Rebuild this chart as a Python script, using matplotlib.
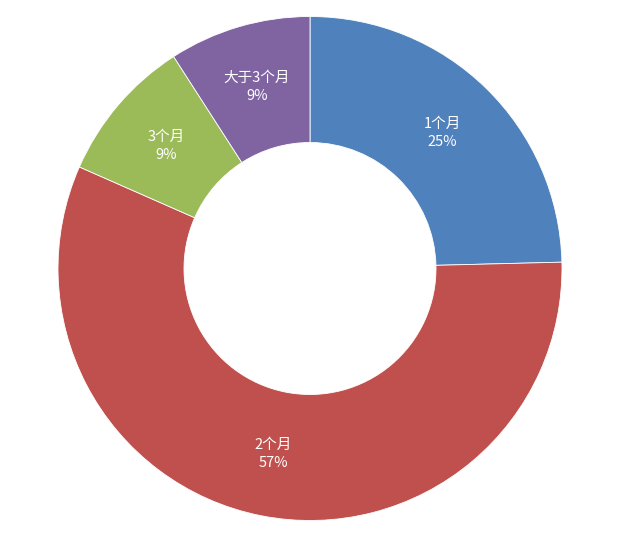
import matplotlib.pyplot as plt
import numpy as np

plt.rcParams['font.family'] = ['Noto Sans CJK SC', 'DejaVu Sans']

# Data
labels = ['1个月', '2个月', '3个月', '大于3个月']
shares = [24.6, 57.0, 9.3, 9.1]
colors = ['#4F81BD', '#C0504D', '#9BBB59', '#8064A2']

fig = plt.figure(figsize=(6.38, 5.38), dpi=100)
ax = fig.add_axes([58 / 638, 17.5 / 538, 504 / 638, 504 / 538])

wedges, texts = ax.pie(shares, colors=colors, startangle=90, counterclock=False,
                       radius=1.0, wedgeprops=dict(width=0.5, edgecolor='white', linewidth=0.6))

total = sum(shares)
for w, lab, v in zip(wedges, labels, shares):
    ang = np.deg2rad((w.theta1 + w.theta2) / 2)
    x = 0.75 * np.cos(ang)
    y = 0.75 * np.sin(ang)
    ax.text(x, y, f'{lab}\n{round(v / total * 100):.0f}%', ha='center', va='center',
            color='white', fontsize=10.5, linespacing=1.4)

ax.set_xlim(-1, 1)
ax.set_ylim(-1, 1)
ax.set_aspect('equal')
ax.axis('off')

fig.savefig('out.png', dpi=100)
